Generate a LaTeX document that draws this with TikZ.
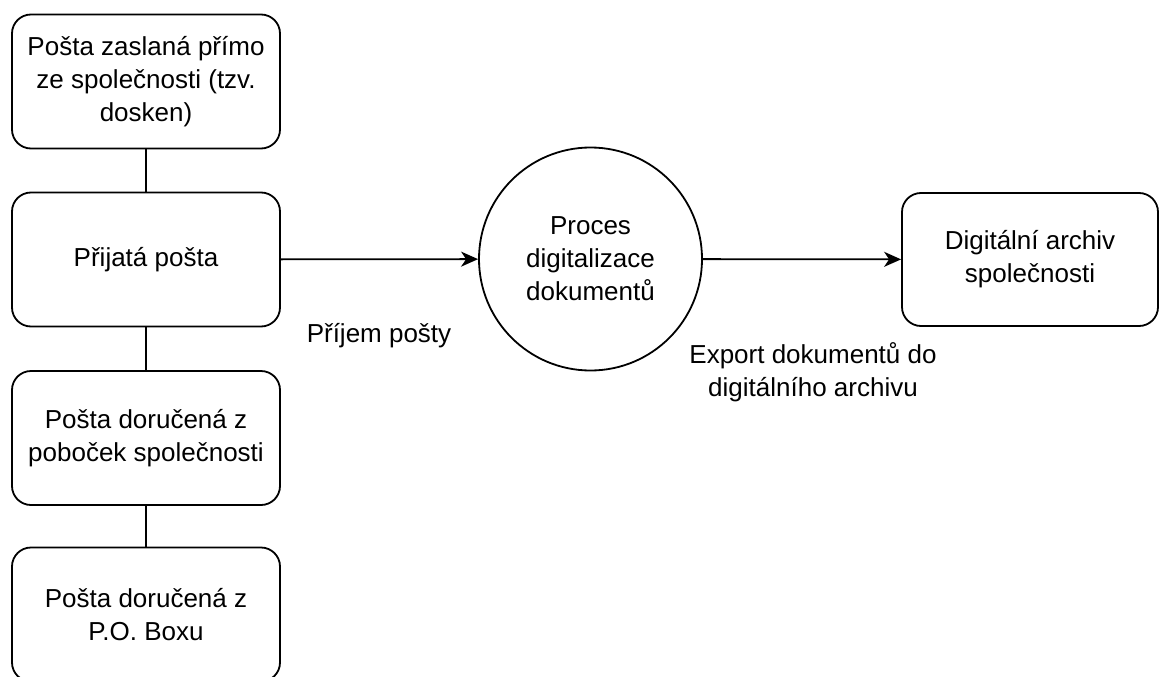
\documentclass[tikz,border=0pt]{standalone}
\usepackage{fontspec}
\setmainfont{Liberation Sans}
\usetikzlibrary{arrows.meta}
\begin{document}
\begin{tikzpicture}[x=1pt,y=-1pt,
  every node/.style={font=\fontsize{26}{33}\selectfont, align=center, text=black},
  box/.style={draw, line width=1.8pt, rounded corners=19pt, minimum width=268pt, minimum height=134pt, inner sep=0pt},
  proc/.style={draw, line width=1.8pt, circle, minimum size=223pt, inner sep=0pt},
  link/.style={line width=1.8pt},
  flow/.style={line width=1.8pt, -{Stealth[length=17pt, width=15pt, inset=5pt]}},
  lbl/.style={inner sep=0pt}
]
\useasboundingbox (0,0) rectangle (1159,677);
% source boxes in the left column
\node[box] (direct) at (146,81.5) {Pošta zaslaná přímo\\ze společnosti (tzv.\\dosken)};
\node[box] (recv) at (146,259.5) {Přijatá pošta};
\node[box] (branch) at (146,438) {Pošta doručená z\\poboček společnosti};
\node[box] (pobox) at (146,614.5) {Pošta doručená z\\P.O. Boxu};
% processing step and destination
\node[proc] (digit) at (590.5,259) {Proces\\digitalizace\\dokumentů};
\node[box, minimum width=256pt, minimum height=133pt] (archive) at (1030,259.5) {Digitální archiv\\společnosti};
% connectors
\draw[link] (direct) -- (recv);
\draw[link] (recv) -- (branch);
\draw[link] (branch) -- (pobox);
\draw[flow] (recv) -- (digit);
\draw[flow] (digit) -- (archive);
% flow labels
\node[lbl] (lrecv) at (379,336) {Příjem pošty};
\node[lbl] (lexp) at (813,372) {Export dokumentů do\\digitálního archivu};
\end{tikzpicture}
\end{document}
